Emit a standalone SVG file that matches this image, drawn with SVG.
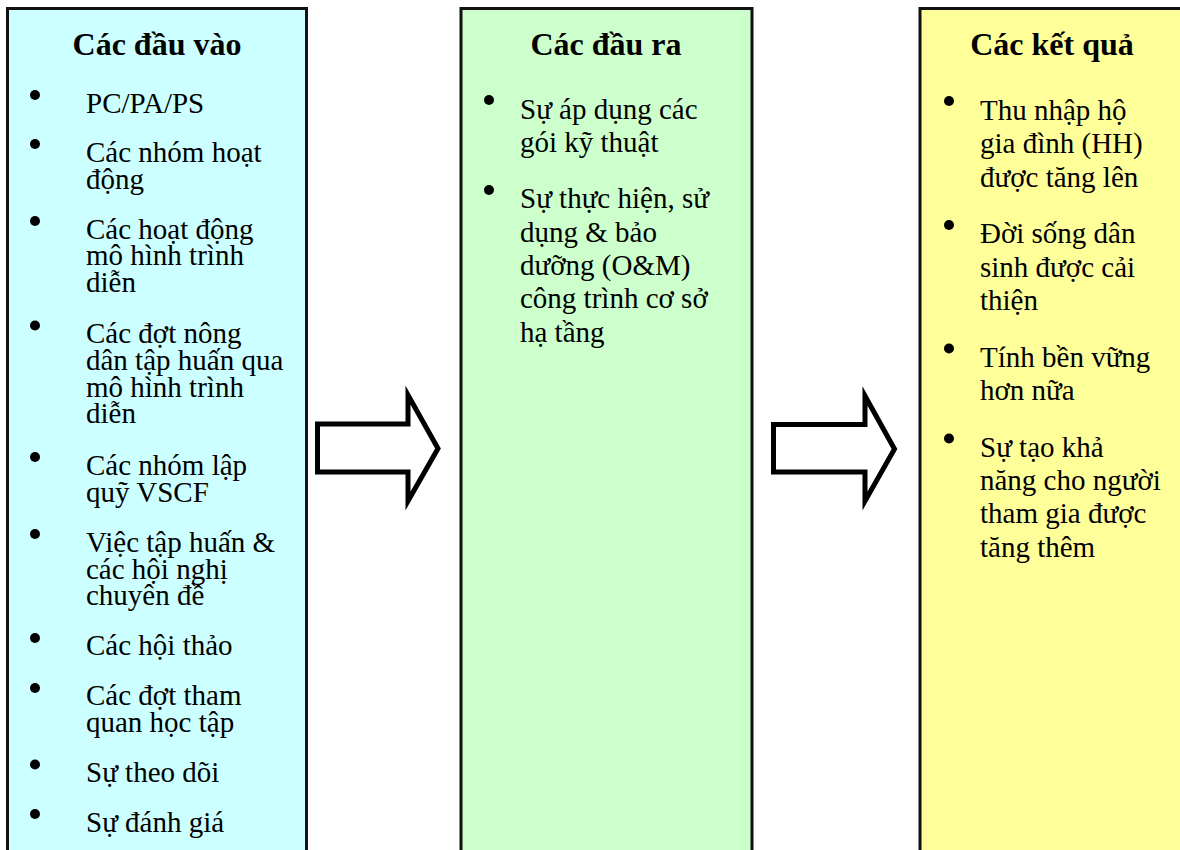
<svg xmlns="http://www.w3.org/2000/svg" width="1180" height="850" viewBox="0 0 1180 850">
<style>
.box{stroke:#111;stroke-width:3}
.t{font-family:"Liberation Serif","Times New Roman",serif;font-size:32px;font-weight:bold;fill:#000;text-anchor:middle}
.b{font-family:"Liberation Serif","Times New Roman",serif;font-size:29px;fill:#000}
.dot{fill:#000}
.arr{fill:#fff;stroke:#000;stroke-width:5;stroke-linejoin:miter;stroke-miterlimit:10}
</style>
<rect width="1180" height="850" fill="#fff"/>
<g id="inputs">
<rect class="box" x="7.5" y="8.5" width="299" height="900" fill="#CCFFFF"/>
<text class="t" x="157" y="55">Các đầu vào</text>
<circle class="dot" cx="35" cy="95" r="5"/>
<text class="b" x="86" y="112.7">PC/PA/PS</text>
<circle class="dot" cx="35" cy="144" r="5"/>
<text class="b" x="86" y="161.7">Các nhóm hoạt</text>
<text class="b" x="86" y="188.5">động</text>
<circle class="dot" cx="35" cy="221" r="5"/>
<text class="b" x="86" y="238.5">Các hoạt động</text>
<text class="b" x="86" y="265.3">mô hình trình</text>
<text class="b" x="86" y="292.1">diễn</text>
<circle class="dot" cx="35" cy="325.5" r="5"/>
<text class="b" x="86" y="343">Các đợt nông</text>
<text class="b" x="86" y="369.8">dân tập huấn qua</text>
<text class="b" x="86" y="396.6">mô hình trình</text>
<text class="b" x="86" y="423.4">diễn</text>
<circle class="dot" cx="35" cy="457" r="5"/>
<text class="b" x="86" y="475">Các nhóm lập</text>
<text class="b" x="86" y="501.8">quỹ VSCF</text>
<circle class="dot" cx="35" cy="534" r="5"/>
<text class="b" x="86" y="551.7">Việc tập huấn &amp;</text>
<text class="b" x="86" y="578.5">các hội nghị</text>
<text class="b" x="86" y="605.3">chuyên đề</text>
<circle class="dot" cx="35" cy="638" r="5"/>
<text class="b" x="86" y="655.3">Các hội thảo</text>
<circle class="dot" cx="35" cy="688" r="5"/>
<text class="b" x="86" y="705.3">Các đợt tham</text>
<text class="b" x="86" y="732.1">quan học tập</text>
<circle class="dot" cx="35" cy="764.5" r="5"/>
<text class="b" x="86" y="782">Sự theo dõi</text>
<circle class="dot" cx="35" cy="814" r="5"/>
<text class="b" x="86" y="831.7">Sự đánh giá</text>
</g>
<g id="outputs">
<rect class="box" x="461" y="8.5" width="291" height="900" fill="#CCFFCC"/>
<text class="t" x="606" y="55">Các đầu ra</text>
<circle class="dot" cx="489" cy="100" r="5"/>
<text class="b" x="520" y="118.5">Sự áp dụng các</text>
<text class="b" x="520" y="151.8">gói kỹ thuật</text>
<circle class="dot" cx="489" cy="190" r="5"/>
<text class="b" x="520" y="208.4">Sự thực hiện, sử</text>
<text class="b" x="520" y="241.7">dụng &amp; bảo</text>
<text class="b" x="520" y="275">dưỡng (O&amp;M)</text>
<text class="b" x="520" y="308.3">công trình cơ sở</text>
<text class="b" x="520" y="341.6">hạ tầng</text>
</g>
<g id="outcomes">
<rect class="box" x="920" y="8.5" width="300" height="900" fill="#FFFF99"/>
<text class="t" x="1052" y="55">Các kết quả</text>
<circle class="dot" cx="949" cy="101" r="5"/>
<text class="b" x="980" y="120">Thu nhập hộ</text>
<text class="b" x="980" y="153.3">gia đình (HH)</text>
<text class="b" x="980" y="186.6">được tăng lên</text>
<circle class="dot" cx="949" cy="225" r="5"/>
<text class="b" x="980" y="243.3">Đời sống dân</text>
<text class="b" x="980" y="276.6">sinh được cải</text>
<text class="b" x="980" y="309.9">thiện</text>
<circle class="dot" cx="949" cy="348.5" r="5"/>
<text class="b" x="980" y="366.7">Tính bền vững</text>
<text class="b" x="980" y="400">hơn nữa</text>
<circle class="dot" cx="949" cy="438.5" r="5"/>
<text class="b" x="980" y="456.7">Sự tạo khả</text>
<text class="b" x="980" y="490">năng cho người</text>
<text class="b" x="980" y="523.3">tham gia được</text>
<text class="b" x="980" y="556.6">tăng thêm</text>
</g>
<g id="connectors">
<polygon class="arr" points="317.5,424 408,424 408,395 438,448.5 408,501 408,472 317.5,472"/>
<polygon class="arr" points="773.5,424.5 865,424.5 865,396 894.5,449 865,501 865,472 773.5,472"/>
</g>
</svg>
